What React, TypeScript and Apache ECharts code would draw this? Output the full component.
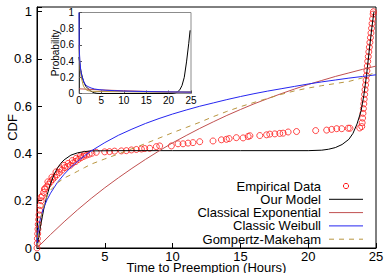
import React, { useEffect, useRef } from "react";
import * as echarts from "echarts";

const FONT = "Liberation Sans, Arial, Helvetica, sans-serif";

const seriesNames = ["Empirical Data", "Our Model", "Classical Exponential", "Classic Weibull", "Gompertz-Makeham"];
const seriesColors = ["#ff1a1a", "#000000", "#c05050", "#2525f0", "#b8953f"];

// Empirical CDF points
const empEarly: number[][] = [
  [0.0, 0.0], [0.02, 0.02], [0.03, 0.04], [0.05, 0.06], [0.07, 0.08], [0.09, 0.1], [0.12, 0.12],
  [0.15, 0.14], [0.19, 0.16], [0.24, 0.18], [0.31, 0.2], [0.39, 0.22], [0.49, 0.235], [0.6, 0.25],
  [0.72, 0.26], [0.85, 0.27], [1.0, 0.28], [1.15, 0.29], [1.3, 0.3], [1.47, 0.31], [1.65, 0.32],
  [1.85, 0.33], [2.05, 0.34], [2.25, 0.345], [2.45, 0.35], [2.65, 0.36], [2.85, 0.366], [3.05, 0.375],
  [3.25, 0.382], [3.45, 0.388], [3.65, 0.393], [3.85, 0.397], [4.05, 0.401],
  [0.3, 0.215], [0.55, 0.25], [0.8, 0.28], [1.1, 0.3], [1.4, 0.322], [1.7, 0.335], [2.0, 0.35],
  [2.3, 0.358], [2.6, 0.37], [2.9, 0.38], [3.2, 0.39], [3.5, 0.397],
];
const empMiddle: number[][] = [
  [4.37, 0.405], [4.99, 0.407], [5.35, 0.408], [5.72, 0.41], [6.22, 0.411], [6.59, 0.412], [6.96, 0.415],
  [7.33, 0.417], [7.7, 0.419], [7.94, 0.421], [8.31, 0.422], [8.8, 0.429], [9.05, 0.432], [9.91, 0.432],
  [10.4, 0.441], [10.77, 0.441], [11.14, 0.444], [11.5, 0.446], [12.0, 0.45], [12.98, 0.453], [13.6, 0.458],
  [13.97, 0.46], [14.17, 0.463], [14.7, 0.467], [15.2, 0.466], [15.57, 0.472], [15.7, 0.475], [16.43, 0.476],
  [16.93, 0.479], [17.17, 0.482], [17.54, 0.483], [17.9, 0.485], [18.15, 0.486], [18.52, 0.491],
  [19.14, 0.493], [20.55, 0.497], [21.36, 0.499], [21.73, 0.502], [22.1, 0.505], [22.47, 0.505],
  [22.95, 0.507], [23.08, 0.507], [23.8, 0.508],
];
const empLate: number[][] = [
  [23.95, 0.514], [23.98, 0.53], [24.01, 0.55], [24.04, 0.57], [24.07, 0.59], [24.1, 0.61], [24.13, 0.63],
  [24.16, 0.65], [24.19, 0.67], [24.23, 0.69], [24.27, 0.71], [24.3, 0.73], [24.33, 0.75], [24.36, 0.77],
  [24.39, 0.79], [24.43, 0.81], [24.47, 0.83], [24.51, 0.85], [24.55, 0.87], [24.59, 0.89], [24.63, 0.91],
  [24.67, 0.93], [24.71, 0.95], [24.75, 0.97], [24.79, 0.99], [24.81, 1.0],
];

// Fitted CDFs
const modelCdf: number[][] = [
  [0, 0], [0.05, 0.018], [0.1, 0.035], [0.25, 0.09], [0.4, 0.135], [0.5, 0.165], [0.75, 0.225], [1, 0.272],
  [1.25, 0.31], [1.5, 0.337], [1.75, 0.358], [2, 0.373], [2.5, 0.393], [3, 0.403], [3.5, 0.408], [4, 0.411],
  [6, 0.412], [10, 0.412], [15, 0.412], [20, 0.412], [21, 0.414], [21.5, 0.418], [22, 0.425], [22.5, 0.438],
  [23, 0.46], [23.3, 0.485], [23.6, 0.525], [23.9, 0.58], [24.1, 0.645], [24.3, 0.73], [24.5, 0.835],
  [24.7, 0.935], [24.85, 1.0],
];
const expCdf: number[][] = [
  [0, 0], [1, 0.057], [2, 0.111], [3, 0.162], [4, 0.21], [5, 0.255], [6, 0.297], [7, 0.337], [8, 0.375],
  [9, 0.411], [10, 0.445], [11, 0.476], [12, 0.506], [13, 0.534], [14, 0.561], [15, 0.586], [16, 0.61],
  [17, 0.632], [18, 0.653], [19, 0.673], [20, 0.692], [21, 0.709], [22, 0.726], [23, 0.741], [24, 0.756], [25, 0.77],
];
const weibullCdf: number[][] = [
  [0, 0], [0.02, 0.037], [0.05, 0.057], [0.1, 0.08], [0.2, 0.112], [0.35, 0.145], [0.5, 0.171],
  [0.75, 0.205], [1, 0.232], [1.5, 0.277], [2, 0.312], [2.5, 0.342], [3, 0.367], [3.5, 0.39], [4, 0.411],
  [5, 0.446], [6, 0.477], [7, 0.503], [8, 0.527], [9, 0.548], [10, 0.567], [11, 0.584], [12, 0.6],
  [13, 0.614], [14, 0.628], [15, 0.641], [16, 0.653], [17, 0.664], [18, 0.674], [19, 0.684], [20, 0.694],
  [21, 0.703], [22, 0.711], [23, 0.719], [24, 0.726], [25, 0.733],
];
const gompertzCdf: number[][] = [
  [0, 0], [0.1, 0.06], [0.25, 0.12], [0.5, 0.18], [0.75, 0.22], [1, 0.245], [1.5, 0.275], [2, 0.296],
  [2.5, 0.31], [3, 0.325], [3.5, 0.34], [4, 0.355], [5, 0.377], [6, 0.398], [7, 0.42], [8, 0.442],
  [9, 0.465], [10, 0.488], [11, 0.51], [12, 0.532], [13, 0.556], [14, 0.578], [15, 0.598], [16, 0.616],
  [17, 0.633], [18, 0.65], [19, 0.665], [20, 0.677], [21, 0.687], [22, 0.696], [23, 0.705], [24, 0.72], [25, 0.745],
];

// Inset PDFs
const modelPdf: number[][] = [
  [0, 0.45], [0.25, 0.33], [0.5, 0.26], [0.75, 0.2], [1, 0.15], [1.5, 0.09], [2, 0.06], [2.5, 0.035],
  [3, 0.018], [3.5, 0.008], [4, 0.002], [5, 0], [10, 0], [15, 0], [20, 0], [21, 0.002], [21.5, 0.008],
  [22, 0.02], [22.5, 0.045], [23, 0.1], [23.5, 0.2], [24, 0.39], [24.5, 0.62], [24.8, 0.78],
];
const expPdf: number[][] = [[0, 0.058], [5, 0.044], [10, 0.034], [15, 0.026], [20, 0.02], [25, 0.014]];
const weibullPdf: number[][] = [
  [0, 1.0], [0.05, 0.6], [0.1, 0.5], [0.2, 0.4], [0.4, 0.28], [0.6, 0.22], [0.8, 0.19], [1.2, 0.13],
  [1.6, 0.1], [2, 0.085], [2.7, 0.068], [3.5, 0.055], [4.5, 0.047], [6, 0.04], [8, 0.035], [10, 0.03],
  [15, 0.024], [20, 0.02], [25, 0.017],
];
const gompertzPdf: number[][] = [
  [0, 0.6], [0.25, 0.3], [0.5, 0.2], [1, 0.09], [1.5, 0.05], [2, 0.035], [3, 0.027], [5, 0.024],
  [10, 0.022], [15, 0.018], [20, 0.015], [25, 0.022],
];

export default function App() {
  const ref = useRef<HTMLDivElement>(null);
  useEffect(() => {
    if (!ref.current) return;
    const chart = echarts.init(ref.current, undefined, { renderer: "svg" });
    const txt = { color: "#000", fontFamily: FONT };
    const lineSeries = (name: string, data: number[][], color: string, xi: number, dashed = false) => ({
      name,
      type: "line",
      xAxisIndex: xi,
      yAxisIndex: xi,
      data,
      symbol: "none",
      smooth: false,
      lineStyle: { color, width: 1, type: dashed ? [5, 5] : "solid" },
      itemStyle: { color },
      z: 3,
    });

    // legend drawn with graphic elements (text right-aligned, sample on the right)
    const legendTop = 186;
    const legendStep = 13.3;
    const legendTextRight = 321;
    const sampleX1 = 329;
    const sampleX2 = 363;
    const legendEls: any[] = [];
    seriesNames.forEach((name, i) => {
      const y = legendTop + i * legendStep;
      legendEls.push({
        type: "text",
        x: legendTextRight,
        y,
        style: { text: name, fill: "#000", font: `13px ${FONT}`, lineHeight: 12, align: "right", verticalAlign: "middle" },
      });
      if (i === 0) {
        legendEls.push({
          type: "circle",
          shape: { cx: (sampleX1 + sampleX2) / 2, cy: y, r: 2.6 },
          style: { fill: "none", stroke: seriesColors[0], lineWidth: 1 },
        });
      } else {
        legendEls.push({
          type: "line",
          shape: { x1: sampleX1, y1: y, x2: sampleX2, y2: y },
          style: { stroke: seriesColors[i], lineWidth: 1, lineDash: i === 4 ? [5, 5] : null },
        });
      }
    });

    chart.setOption({
      animation: false,
      backgroundColor: "#fff",
      textStyle: { fontFamily: FONT },
      grid: [
        { left: 37, right: 14, top: 7, bottom: 25, show: true, borderColor: "#000", borderWidth: 1, backgroundColor: "transparent", outerBoundsMode: "none", containLabel: false },
        { left: 79, right: 199, top: 12.5, bottom: 179.5, show: true, borderColor: "#8c8c8c", borderWidth: 1, backgroundColor: "#fff", outerBoundsMode: "none", containLabel: false },
      ],
      graphic: legendEls,
      xAxis: [
        {
          type: "value", gridIndex: 0, min: 0, max: 25, interval: 5,
          name: "Time to Preemption (Hours)", nameLocation: "middle", nameGap: 14, nameMoveOverlap: false,
          nameTextStyle: { ...txt, fontSize: 13, lineHeight: 11 },
          axisLine: { show: true, lineStyle: { color: "#000" } },
          axisTick: { show: true, inside: true, length: 5, lineStyle: { color: "#000" } },
          axisLabel: { ...txt, fontSize: 13, margin: 3, lineHeight: 11 },
          splitLine: { show: false },
        },
        {
          type: "value", gridIndex: 1, min: 0, max: 25, interval: 5,
          axisLine: { show: false },
          axisTick: { show: true, inside: true, length: 3, lineStyle: { color: "#555" } },
          axisLabel: { ...txt, fontSize: 10, margin: 2 },
          splitLine: { show: false },
        },
      ],
      yAxis: [
        {
          type: "value", gridIndex: 0, min: 0, max: 1.02, interval: 0.2,
          name: "CDF", nameLocation: "middle", nameGap: 18, nameMoveOverlap: false,
          nameTextStyle: { ...txt, fontSize: 13 },
          axisLine: { show: true, lineStyle: { color: "#000" } },
          axisTick: { show: true, inside: true, length: 5, lineStyle: { color: "#000" } },
          axisLabel: {
            ...txt, fontSize: 13, margin: 5,
            formatter: (v: number) => (Math.abs(v * 5 - Math.round(v * 5)) < 1e-6 ? String(Math.round(v * 5) / 5) : ""),
          },
          splitLine: { show: false },
        },
        {
          type: "value", gridIndex: 1, min: 0, max: 1, interval: 0.2,
          name: "Probability", nameLocation: "middle", nameGap: 19, nameMoveOverlap: false,
          nameTextStyle: { ...txt, fontSize: 10 },
          axisLine: { show: true, lineStyle: { color: "#333" } },
          axisTick: { show: true, inside: true, length: 3, lineStyle: { color: "#555" } },
          axisLabel: { ...txt, fontSize: 10, margin: 5 },
          splitLine: { show: false },
        },
      ],
      series: [
        {
          name: seriesNames[0],
          type: "scatter",
          xAxisIndex: 0,
          yAxisIndex: 0,
          data: [...empEarly, ...empMiddle, ...empLate],
          symbol: "circle",
          symbolSize: 6,
          itemStyle: { color: "rgba(255,255,255,0)", borderColor: seriesColors[0], borderWidth: 1 },
          z: 2,
        },
        lineSeries(seriesNames[1], modelCdf, seriesColors[1], 0),
        lineSeries(seriesNames[2], expCdf, seriesColors[2], 0),
        lineSeries(seriesNames[3], weibullCdf, seriesColors[3], 0),
        lineSeries(seriesNames[4], gompertzCdf, seriesColors[4], 0, true),
        lineSeries("pdf-model", modelPdf, seriesColors[1], 1),
        lineSeries("pdf-exp", expPdf, seriesColors[2], 1),
        lineSeries("pdf-gompertz", gompertzPdf, seriesColors[4], 1),
        lineSeries("pdf-weibull", weibullPdf, seriesColors[3], 1),
      ],
    });
    return () => chart.dispose();
  }, []);
  return <div ref={ref} style={{ position: "fixed", left: 0, top: 0, width: 390, height: 273 }} />;
}
